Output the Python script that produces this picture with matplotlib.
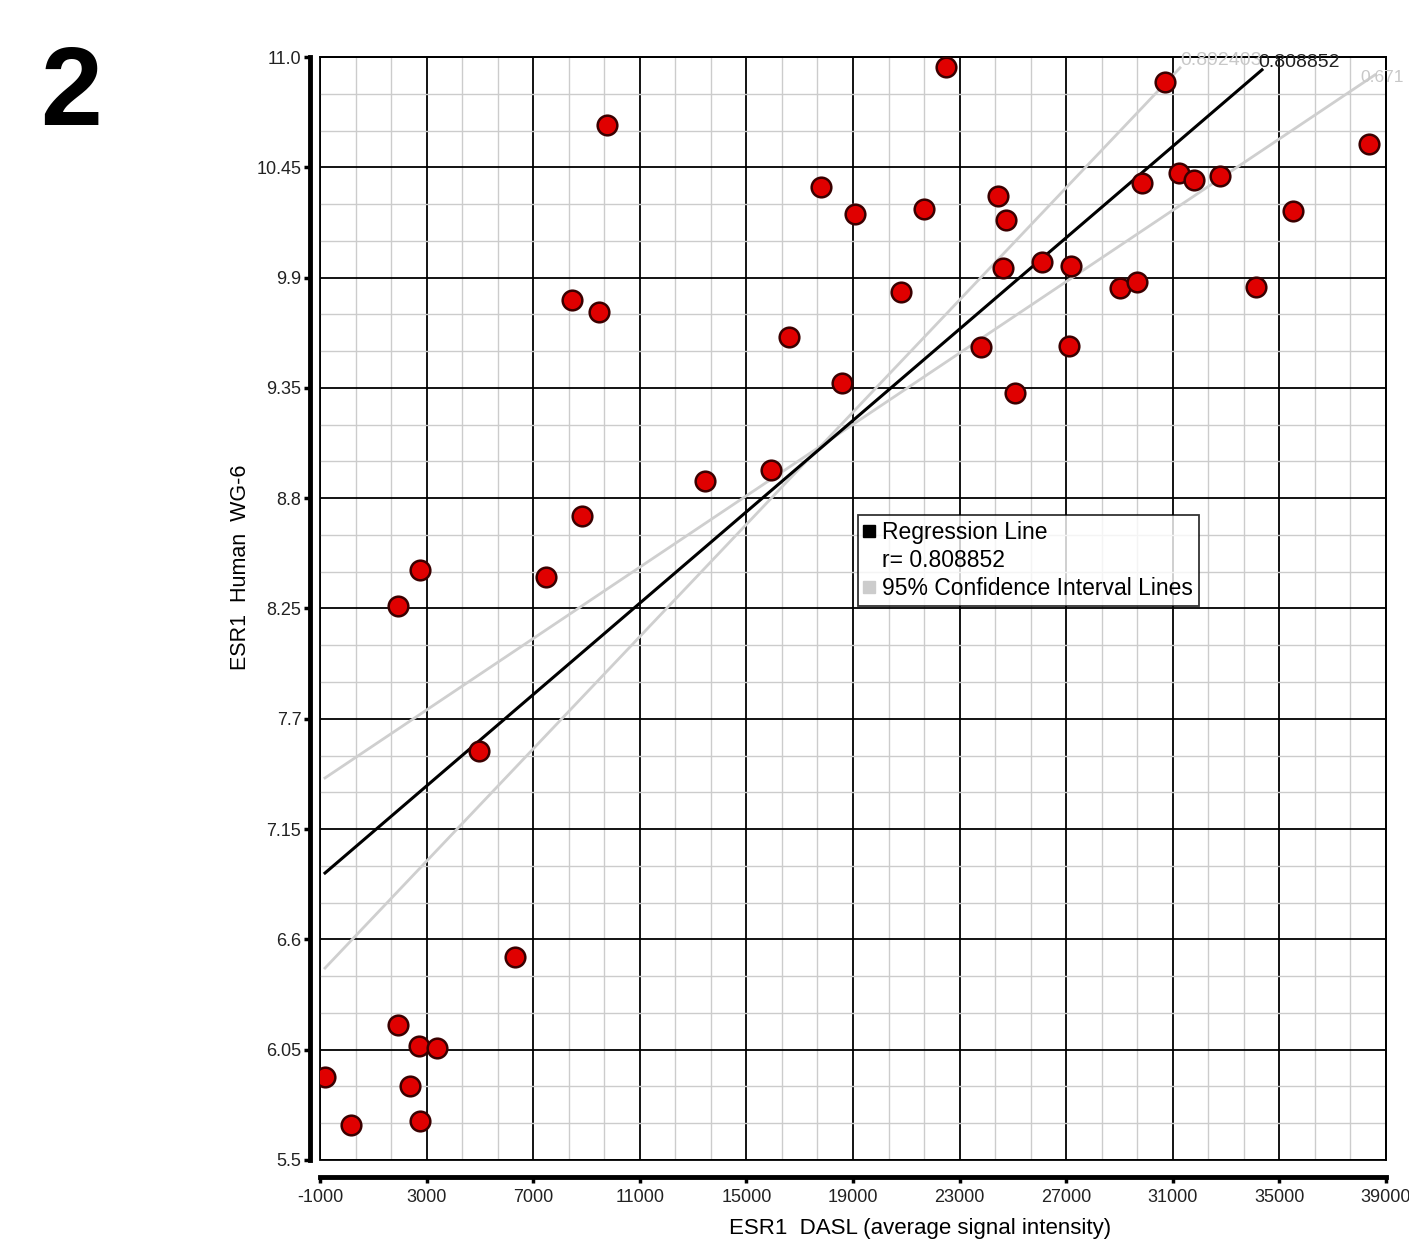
import numpy as np
import matplotlib.pyplot as plt
from matplotlib.lines import Line2D
from matplotlib.patches import Rectangle

plt.rcParams['font.family'] = ['Liberation Sans', 'DejaVu Sans']

# data
dasl = np.array([22490, 30707, 9769, 38362, 17799, 19075, 21664, 24441, 24741, 29844,
                 31232, 31795, 32771, 35510, 24629, 26092, 27180, 20801, 29019, 29657,
                 34122, 8456, 9469, 16598, 23803, 27105, 18587, 25079, 15923, 13447,
                 8831, 2752, 7480, 1927, 4966, 6317, 1927, 2715, 3390, -812,
                 2377, 163, 2752])
wg6 = np.array([10.95, 10.877, 10.662, 10.567, 10.353, 10.218, 10.243, 10.308, 10.188, 10.373,
                10.423, 10.388, 10.408, 10.233, 9.949, 9.979, 9.959, 9.829, 9.849, 9.879,
                9.854, 9.789, 9.729, 9.605, 9.555, 9.560, 9.375, 9.325, 8.941, 8.887,
                8.712, 8.443, 8.408, 8.263, 7.540, 6.512, 6.173, 6.069, 6.059, 5.914,
                5.869, 5.675, 5.695])

# regression and 95% CI lines (end points)
reg_x = [-812, 34347]
reg_y = [6.931, 10.936]
ci_hi_x = [-812, 31270]
ci_hi_y = [6.457, 10.946]
ci_lo_x = [-812, 38587]
ci_lo_y = [7.405, 10.911]
r_val = "0.808852"
r_hi = "0.892403"
r_lo = "0.671"

xticks = np.arange(-1000, 39001, 4000)
yticks = [5.5, 6.05, 6.6, 7.15, 7.7, 8.25, 8.8, 9.35, 9.9, 10.45, 11.0]
ytick_labels = ["5.5", "6.05", "6.6", "7.15", "7.7", "8.25", "8.8", "9.35", "9.9", "10.45", "11.0"]

fig = plt.figure(figsize=(14.09, 12.39), dpi=100)
ax = fig.add_axes([320 / 1409, 1 - 1160 / 1239, 1066 / 1409, 1103 / 1239])

ax.set_xlim(-1000, 39000)
ax.set_ylim(5.5, 11.0)
ax.set_xticks(xticks)
ax.set_xticklabels([str(t) for t in xticks])
ax.set_yticks(yticks)
ax.set_yticklabels(ytick_labels)
# three grid cells per major interval
ax.set_xticks(np.linspace(-1000, 39000, 31), minor=True)
ax.set_yticks(np.linspace(5.5, 11.0, 31), minor=True)
ax.grid(which='minor', color='#cccccc', lw=1.0, zorder=0)
ax.grid(which='major', color='black', lw=1.3, zorder=1)
ax.set_axisbelow(True)

# offset thick axes, thin frame
ax.spines['left'].set_position(('outward', 7.5))
ax.spines['bottom'].set_position(('outward', 12))
for s in ['left', 'bottom']:
    ax.spines[s].set_linewidth(3.5)
for s in ['top', 'right']:
    ax.spines[s].set_linewidth(1.3)
ax.add_patch(Rectangle((0, 0), 1, 1, transform=ax.transAxes, fill=False,
                       lw=1.3, ec='black', zorder=1, clip_on=False))
ax.tick_params(which='major', length=4, width=2.5, labelsize=13,
               labelcolor='#222222', pad=2)
ax.tick_params(axis='x', pad=5)
ax.tick_params(which='minor', length=0)

ax.plot(ci_hi_x, ci_hi_y, color='#cfcfcf', lw=2, zorder=2)
ax.plot(ci_lo_x, ci_lo_y, color='#cfcfcf', lw=2, zorder=2)
ax.plot(reg_x, reg_y, color='black', lw=2.2, zorder=3)
ax.scatter(dasl, wg6, s=200, c='#e00000', edgecolors='#3a0000', linewidths=1.8, zorder=4)

ax.text(ci_hi_x[1], 10.985, r_hi, color='#c8c8c8', fontsize=14,
        ha='left', va='center', clip_on=False, zorder=5)
ax.text(reg_x[1] - 150, 10.975, r_val, color='#222222', fontsize=14,
        ha='left', va='center', clip_on=False, zorder=5)
ax.text(38050, 10.9, r_lo, color='#c8c8c8', fontsize=12.5,
        ha='left', va='center', clip_on=False, zorder=5)

handles = [Line2D([], [], ls='', marker='s', color='black', markersize=8),
           Line2D([], [], ls='', marker=None),
           Line2D([], [], ls='', marker='s', color='#cccccc', markersize=8)]
leg = ax.legend(handles, ['Regression Line', 'r= ' + r_val, '95% Confidence Interval Lines'],
                loc='upper left', bbox_to_anchor=(538 / 1066, 1 - 458 / 1103),
                fontsize=16.5, frameon=True, fancybox=False, edgecolor='black',
                handlelength=0.5, handletextpad=0.3, borderpad=0.25,
                labelspacing=0.22, borderaxespad=0)
leg.get_frame().set_linewidth(1.3)
leg.set_zorder(6)

fig.text(240 / 1409, 1 - 567 / 1239, 'ESR1  Human  WG-6', fontsize=15.5,
         rotation=90, ha='center', va='center')
fig.text(920 / 1409, 1 - 1234 / 1239, 'ESR1  DASL (average signal intensity)',
         fontsize=16, ha='center', va='baseline')

fig.text(71 / 1409, 1 - 96 / 1239, '2', fontsize=80, fontweight='bold',
         ha='center', va='center')

fig.savefig('out.png', dpi=100)
